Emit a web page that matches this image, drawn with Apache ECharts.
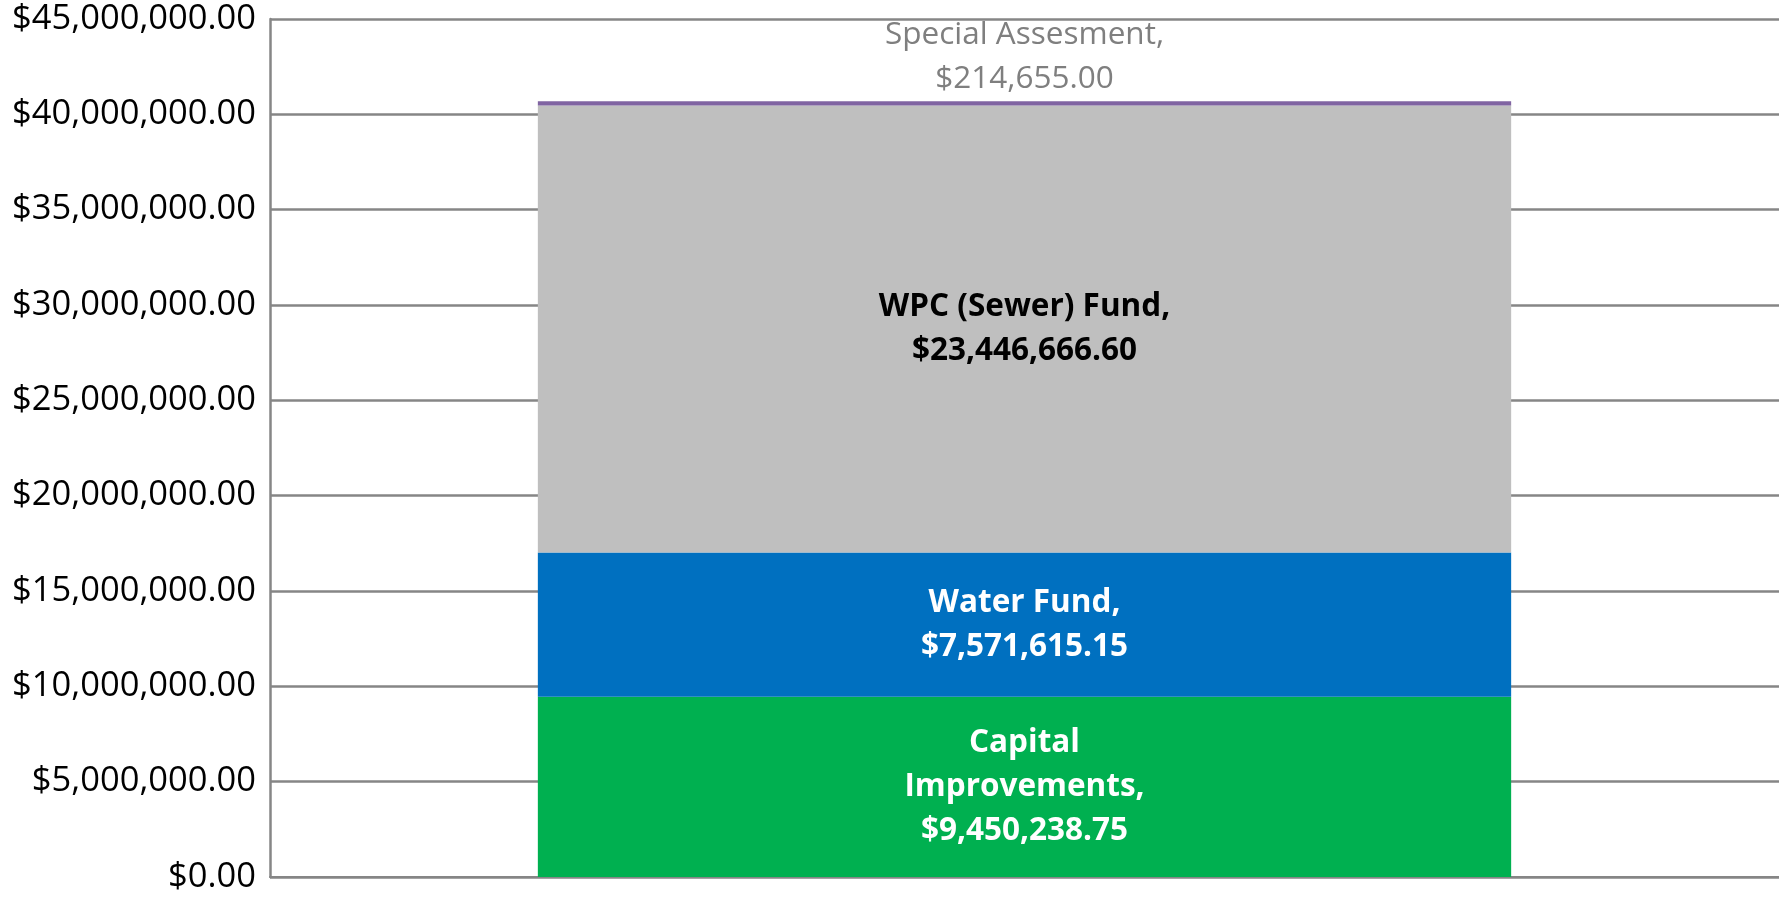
<!doctype html>
<html>
<head>
    <meta charset="UTF-8">
    <title>Fund Totals</title>
    <script src="https://cdn.jsdelivr.net/npm/echarts@6/dist/echarts.min.js"></script>
    <style>
        html, body { margin: 0; padding: 0; background: #fff; }
        #chart { width: 1779px; height: 899px; }
    </style>
</head>
<body>
<div id="chart"></div>
<script>
    // data
    var categories = ['Total'];
    var seriesNames = ['Capital Improvements', 'Water Fund', 'WPC (Sewer) Fund', 'Special Assesment'];
    var labelNames = ['Capital\nImprovements', 'Water Fund', 'WPC (Sewer) Fund', 'Special Assesment'];
    var seriesValues = [9450238.75, 7571615.15, 23446666.60, 214655.00];
    var seriesColors = ['#00b050', '#0070c0', '#bfbfbf', '#8064a2'];
    var labelColors = ['#fff', '#fff', '#000', '#7f7f7f'];
    var axisTicks = [0, 45000000, 5000000]; // min, max, interval

    var font = '"Open Sans", "Liberation Sans", sans-serif';

    function money(v) {
        var parts = v.toFixed(2).split('.');
        return '$' + parts[0].replace(/(\d)(?=(\d{3})+$)/g, '$1,') + '.' + parts[1];
    }

    var series = [];
    for (var i = 0; i < seriesNames.length; i++) {
        var last = i == seriesNames.length - 1;
        series.push({
            name: seriesNames[i],
            type: 'bar',
            stack: 'total',
            barCategoryGap: '35.5%',
            data: [seriesValues[i]],
            itemStyle: { color: seriesColors[i] },
            label: {
                show: true,
                position: last ? 'top' : 'inside',
                distance: 0,
                fontFamily: font,
                fontSize: 31.5,
                lineHeight: 44,
                fontWeight: last ? 'normal' : 'bold',
                color: labelColors[i],
                formatter: (function (n) {
                    return function (p) { return n + ',\n' + money(p.value); };
                })(labelNames[i])
            }
        });
    }

    var myChart = echarts.init(document.getElementById('chart'));
    myChart.setOption({
        animation: false,
        grid: { left: 270, right: 0, top: 19, bottom: 22 },
        xAxis: {
            type: 'category',
            data: categories,
            axisLine: { show: true, lineStyle: { color: '#868686', width: 2 } },
            axisTick: { show: false },
            axisLabel: { show: false }
        },
        yAxis: {
            type: 'value',
            min: axisTicks[0],
            max: axisTicks[1],
            interval: axisTicks[2],
            axisLine: { show: true, lineStyle: { color: '#868686', width: 2.5 } },
            axisTick: { show: false },
            splitLine: { lineStyle: { color: '#868686', width: 2.5 } },
            axisLabel: {
                margin: 14,
                fontFamily: font,
                fontSize: 34.5,
                color: '#000',
                formatter: function (v) { return money(v); }
            }
        },
        series: series
    });
</script>
</body>
</html>
